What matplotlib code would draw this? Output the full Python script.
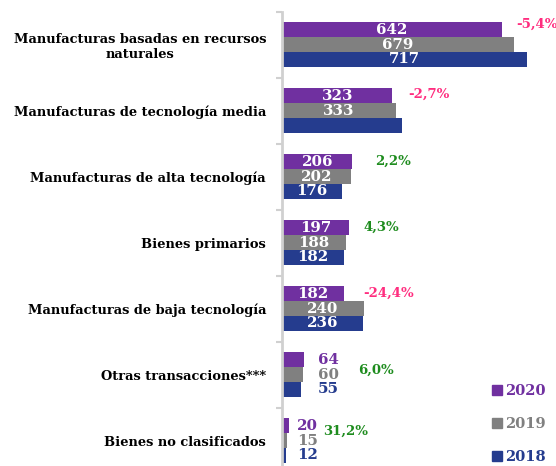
import matplotlib
matplotlib.use("Agg")
import matplotlib.pyplot as plt
import numpy as np

categories = ["Manufacturas basadas en recursos\nnaturales",
              "Manufacturas de tecnología media",
              "Manufacturas de alta tecnología",
              "Bienes primarios",
              "Manufacturas de baja tecnología",
              "Otras transacciones***",
              "Bienes no clasificados"]
v2020 = [642, 323, 206, 197, 182, 64, 20]
v2019 = [679, 333, 202, 188, 240, 60, 15]
v2018 = [717, 352, 176, 182, 236, 55, 12]
show2018 = [True, False, True, True, True, True, True]
changes = ["-5,4%", "-2,7%", "2,2%", "4,3%", "-24,4%", "6,0%", "31,2%"]
years = ["2020", "2019", "2018"]

# annotation placement (data coords)
chg_x = [684, 368, 272, 237, 237, 222, 120]
chg_dy = [-0.31, -0.25, -0.23, -0.23, -0.23, -0.07, -0.14]
outside_x = [None, None, None, None, None, 105, 44]

c2020 = "#7030A0"
c2019 = "#808080"
c2018 = "#253C8E"
pink = "#FF2D7F"
green = "#1E8C1E"

FONT = "DejaVu Serif"
plt.rcParams['font.family'] = [FONT]
plt.rcParams['font.weight'] = 'bold'

fig = plt.figure(figsize=(5.56, 4.66), dpi=100)
ax = fig.add_axes([282/556, 1 - 473.5/466, 273.6/556, 462/466])

y = np.arange(len(categories))
h = 0.227
series = [(v2020, c2020, -h), (v2019, c2019, 0), (v2018, c2018, h)]
for vals, col, off in series:
    ax.barh(y + off, vals, height=h, color=col, edgecolor='none')

lab_fs = 10.8
for i in range(len(categories)):
    for j, (vals, col, off) in enumerate(series):
        if j == 2 and not show2018[i]:
            continue
        if outside_x[i] is None:
            ax.text(vals[i] / 2, y[i] + off, str(vals[i]), ha='center', va='center',
                    color='white', fontsize=lab_fs, fontweight='bold')
        else:
            ax.text(outside_x[i], y[i] + off, str(vals[i]), ha='left', va='center',
                    color=col, fontsize=lab_fs, fontweight='bold')
    col = pink if changes[i].startswith('-') else green
    ax.text(chg_x[i], y[i] + chg_dy[i], changes[i], ha='left', va='center',
            color=col, fontsize=9.5, fontweight='bold', clip_on=False)

ax.set_xlim(0, 800)
ax.set_ylim(6.5, -0.5)
ax.set_yticks(y)
ax.set_yticklabels(categories, fontsize=9.4, fontweight='bold', multialignment='center')
ax.set_yticks(np.arange(-0.5, 7.0, 1.0), minor=True)
ax.tick_params(axis='y', which='major', length=0, pad=11.5)
ax.tick_params(axis='y', which='minor', length=4, width=1.5, color='#D0D0D0', direction='out')
ax.set_xticks([])
for s in ['top', 'right', 'bottom']:
    ax.spines[s].set_visible(False)
ax.spines['left'].set_color('#D0D0D0')
ax.spines['left'].set_linewidth(2)

from matplotlib.lines import Line2D
handles = [Line2D([], [], marker='s', linestyle='none', markersize=7, color=c)
           for c in (c2020, c2019, c2018)]
fig.legend(handles, years, loc='lower right', bbox_to_anchor=(1.0, -0.018),
           frameon=False, fontsize=10.5, labelcolor=[c2020, c2019, c2018],
           handletextpad=0.15, labelspacing=1.3, handlelength=0.8, borderaxespad=0.3)

fig.savefig("out.png", dpi=100)
